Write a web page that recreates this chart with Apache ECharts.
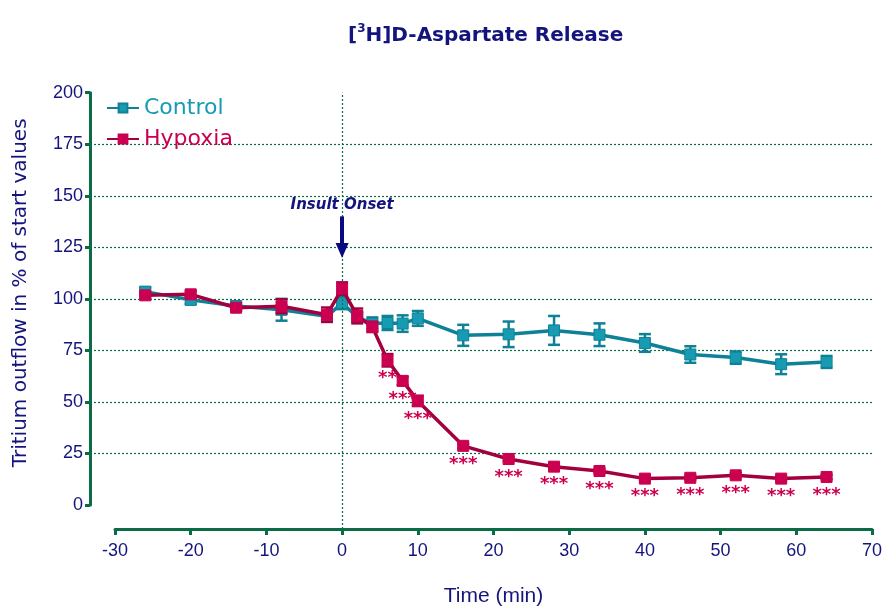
<!DOCTYPE html>
<html>
<head>
<meta charset="utf-8">
<script src="https://cdn.jsdelivr.net/npm/echarts@6/dist/echarts.min.js"></script>
<style>html,body{margin:0;padding:0;background:#fff}#c{width:887px;height:608px}</style>
</head>
<body>
<div id="c"></div>
<script>
const times = [-26,-20,-14,-8,-2,0,2,4,6,8,10,16,22,28,34,40,46,52,58,64];
const control = [103.5,99.5,96.5,94.7,91.5,98,91.2,88,88.3,88,90.5,82.3,82.8,84.7,82.6,78.6,73,71.5,68.3,69.4];
const controlErr = [2,2,2,5.3,2,3,2.5,3,3.4,4,3.6,5.1,6.2,7,5.5,4.3,4,3,4.8,2.9];
const hypoxia = [101.7,102.2,95.7,96.4,92.3,105,91.7,86.4,70.2,60.2,50.5,28.7,22.3,18.6,16.5,12.8,13.2,14.4,12.8,13.6];
const hypoxiaErr = [1.5,1.5,1.5,3.4,3.5,3,3.6,2.5,3,2,2.5,1,1,1,1,1,1,1,1,1];
const sigLabels = ['','','','','','','','','**','***','***','***','***','***','***','***','***','***','***','***'];
const yTicks = [0,25,50,75,100,125,150,175,200];
const xTicks = [-30,-20,-10,0,10,20,30,40,50,60,70];
const onsetTime = 0;
const arrowFrom = 140, arrowTo = 123.5;

const NAVY = '#14147d', GREEN = '#0b6b45';
const C_LINE = '#0e8197', C_FILL = '#169bb2';
const H_LINE = '#a3003f', H_FILL = '#cc0050';

// layout
const plotTop = 92.7, plotZeroY = 505, xAxisY = 529, plotRight = 15;
const pxPerUnit = (plotZeroY - plotTop) / 200;
const yMinB = -(xAxisY - plotZeroY) / pxPerUnit;

function errData(vals, errs){ return times.map((t,i)=>[t, vals[i]-errs[i], vals[i]+errs[i]]); }
function errRender(color){
  return function(params, api){
    const x = api.value(0);
    const lo = api.coord([x, api.value(1)]);
    const hi = api.coord([x, api.value(2)]);
    const w = 6;
    const st = {stroke: color, lineWidth: 2.5};
    return {type:'group', children:[
      {type:'line', shape:{x1:lo[0],y1:lo[1],x2:hi[0],y2:hi[1]}, style:st},
      {type:'line', shape:{x1:lo[0]-w,y1:lo[1],x2:lo[0]+w,y2:lo[1]}, style:st},
      {type:'line', shape:{x1:hi[0]-w,y1:hi[1],x2:hi[0]+w,y2:hi[1]}, style:st}
    ]};
  };
}

const chart = echarts.init(document.getElementById('c'));
chart.setOption({
  animation:false,
  title:{
    text:'{b|[}{s|3}{b|H]D-Aspartate Release}',
    left:343, top:18,
    textStyle:{rich:{
      b:{fontFamily:'DejaVu Sans', fontWeight:'bold', fontSize:20, color:NAVY, lineHeight:26},
      s:{fontFamily:'DejaVu Sans', fontWeight:'bold', fontSize:12, color:NAVY, verticalAlign:'top', lineHeight:26, padding:[0,0,9,0]}
    }}
  },
  legend:{
    left:101, top:92, orient:'vertical', itemWidth:32, itemHeight:11, itemGap:9,
    textStyle:{fontFamily:'DejaVu Sans', fontSize:22},
    data:[
      {name:'Control', textStyle:{color:C_FILL}},
      {name:'Hypoxia', textStyle:{color:H_FILL}}
    ]
  },
  grid:[
    {left:90, right:plotRight, top:plotTop, bottom:608-plotZeroY, outerBoundsMode:'none', containLabel:false},
    {left:115, right:plotRight, top:plotTop, bottom:608-xAxisY, outerBoundsMode:'none', containLabel:false}
  ],
  xAxis:[
    {gridIndex:0, type:'value', min:0, max:1, show:false},
    {gridIndex:1, type:'value', min:xTicks[0], max:xTicks[xTicks.length-1], interval:10,
     name:'Time (min)', nameLocation:'middle', nameGap:57,
     nameTextStyle:{fontFamily:'Liberation Sans', fontSize:21, color:NAVY},
     axisLine:{onZero:false, lineStyle:{color:GREEN, width:3}},
     axisTick:{length:6, lineStyle:{color:GREEN, width:3}},
     axisLabel:{margin:13, fontFamily:'Liberation Sans', fontSize:18, color:NAVY},
     splitLine:{show:false}}
  ],
  yAxis:[
    {gridIndex:0, type:'value', min:yTicks[0], max:yTicks[yTicks.length-1], interval:25,
     name:'Tritium outflow in % of start values', nameLocation:'middle', nameGap:59,
     nameTextStyle:{fontFamily:'DejaVu Sans', fontSize:20, color:NAVY, padding:[0,0,0,12]},
     axisLine:{show:true, lineStyle:{color:GREEN, width:3}},
     axisTick:{show:true, length:5, lineStyle:{color:GREEN, width:3}},
     axisLabel:{margin:7, fontFamily:'Liberation Sans', fontSize:18, color:NAVY},
     splitLine:{show:true, lineStyle:{color:GREEN, type:[2,2], width:1.2},
       showMinLine:false, showMaxLine:false}},
    {gridIndex:1, type:'value', min:yMinB, max:200, show:false, splitLine:{show:false}}
  ],
  series:[
    {type:'custom', name:'ctrlErr', xAxisIndex:1, yAxisIndex:1, renderItem:errRender(C_LINE),
     data:errData(control, controlErr), z:2, silent:true},
    {type:'line', name:'Control', xAxisIndex:1, yAxisIndex:1,
     data:times.map((t,i)=>[t,control[i]]),
     symbol:'rect', symbolSize:11, lineStyle:{color:C_LINE, width:3.5},
     itemStyle:{color:C_FILL, borderColor:C_LINE, borderWidth:1}, z:3,
     markLine:{silent:true, symbol:'none', animation:false, label:{show:false},
       lineStyle:{color:GREEN, type:[2,2], width:1.2},
       data:[{xAxis:onsetTime}]}
    },
    {type:'custom', name:'hypErr', xAxisIndex:1, yAxisIndex:1, renderItem:errRender(H_LINE),
     data:errData(hypoxia, hypoxiaErr), z:4, silent:true},
    {type:'line', name:'Hypoxia', xAxisIndex:1, yAxisIndex:1,
     data:times.map((t,i)=>[t,hypoxia[i]]),
     symbol:'rect', symbolSize:11, lineStyle:{color:H_LINE, width:3.5},
     itemStyle:{color:H_FILL, borderColor:H_FILL, borderWidth:1}, z:5,
     label:{show:true, position:'bottom', distance:3,
       formatter:p=>sigLabels[p.dataIndex],
       fontFamily:'DejaVu Sans', fontWeight:'bold', fontSize:18, color:H_FILL},
     markLine:{silent:true, animation:false, symbol:['none','triangle'], symbolSize:[13,15],
       lineStyle:{color:'#0a0a80', type:'solid', width:4},
       label:{show:true, position:'start', distance:4, formatter:'Insult Onset',
         fontFamily:'DejaVu Sans', fontWeight:'bold', fontStyle:'italic', fontSize:15, color:NAVY},
       data:[[{coord:[onsetTime, arrowFrom]},{coord:[onsetTime, arrowTo]}]]}
    }
  ]
});
</script>
</body>
</html>
